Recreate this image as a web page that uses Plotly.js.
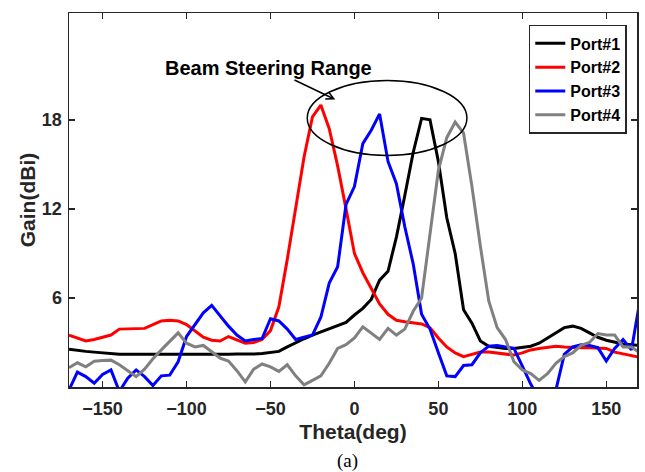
<!DOCTYPE html>
<html>
<head>
<meta charset="utf-8">
<script src="https://cdn.plot.ly/plotly-3.0.1.min.js"></script>
<style>html,body{margin:0;padding:0;background:#fff;}#chart{width:645px;height:472px;}</style>
</head>
<body>
<div id="chart"></div>
<script>
const theta = [-170,-165,-160,-155,-150,-145,-140,-135,-130,-125,-120,-115,-110,-105,-100,-95,-90,-85,-80,-75,-70,-65,-60,-55,-50,-45,-40,-35,-30,-25,-20,-15,-10,-5,0,5,10,15,20,25,30,35,40,45,50,55,60,65,70,75,80,85,90,95,100,105,110,115,120,125,130,135,140,145,150,155,160,165,170];

const port1 = [2.55,2.45,2.4,2.35,2.3,2.25,2.2,2.2,2.2,2.2,2.2,2.2,2.18,2.17,2.15,2.15,2.17,2.18,2.2,2.2,2.22,2.2,2.22,2.25,2.3,2.4,2.7,3.0,3.25,3.5,3.7,3.9,4.1,4.35,4.85,5.3,5.9,7.2,7.8,10.1,12.9,15.8,18.1,18.0,15.2,11.4,9.0,5.2,4.3,3.1,2.75,2.65,2.6,2.6,2.65,2.75,2.95,3.3,3.7,4.0,4.1,3.95,3.65,3.35,3.15,3.0,2.9,2.85,2.8];

const port2 = [3.5,3.3,3.1,3.2,3.35,3.5,3.9,3.9,3.9,3.95,4.2,4.45,4.5,4.45,4.2,3.8,3.35,3.15,3.1,3.4,3.15,2.95,3.0,3.2,3.8,5.4,8.6,12.2,15.5,18.2,19.0,17.4,14.9,12.0,9.0,7.7,6.7,5.6,4.9,4.5,4.4,4.35,4.25,4.0,3.3,2.7,2.3,2.05,2.2,2.35,2.35,2.3,2.2,2.15,2.3,2.5,2.6,2.7,2.75,2.7,2.65,2.65,2.65,2.65,2.6,2.35,2.25,2.1,2.0];

const port3 = [-0.2,1.0,0.7,0.25,0.85,1.15,-0.3,0.6,1.15,0.7,0.1,0.75,0.8,1.7,3.4,4.2,5.0,5.5,4.8,4.1,3.5,3.1,3.2,3.27,4.6,4.45,3.9,3.2,3.35,3.5,4.7,7.0,8.1,12.3,13.5,16.4,17.3,18.4,15.2,13.7,10.8,8.3,4.9,3.9,2.3,0.75,0.7,1.45,1.5,2.3,2.75,2.8,2.7,2.6,1.4,0.2,-0.8,-0.8,-0.2,2.2,2.7,2.85,2.8,2.65,1.75,2.6,3.2,2.5,5.8];

const port4 = [1.3,1.63,1.36,1.74,1.78,1.81,1.5,1.1,0.7,1.2,1.9,2.5,3.1,3.65,2.95,2.7,2.8,2.4,1.95,1.75,1.1,0.35,1.2,1.55,1.35,1.05,1.5,0.75,0.15,0.45,0.75,1.6,2.6,2.85,3.3,4.05,3.6,3.2,3.95,3.5,3.9,5.1,6.0,10.2,14.6,16.8,17.85,17.1,13.5,9.5,5.8,4.0,3.2,1.7,1.15,0.9,0.45,0.9,1.6,2.05,2.3,2.8,3.0,3.6,3.5,3.5,2.7,2.7,2.3];

const seriesNames = ['Port#1','Port#2','Port#3','Port#4'];
const seriesData = [port1, port2, port3, port4];
const seriesColors = ['#000000','#ff0000','#0000ff','#808080'];

const xTicks = [-150,-100,-50,0,50,100,150];
const yTicks = [6,12,18];

const traces = seriesData.map((ys, i) => ({
  x: theta, y: ys, type: 'scatter', mode: 'lines', name: seriesNames[i],
  line: {color: seriesColors[i], width: 3}
}));

const font = 'Liberation Sans, Arial, sans-serif';
const axisCommon = {
  showgrid: false, zeroline: false, showline: true, linecolor: '#262626', linewidth: 1.5,
  mirror: 'ticks', ticks: 'inside', ticklen: 6, tickwidth: 1.5, tickcolor: '#262626',
  tickfont: {family: font, size: 18, color: '#262626', weight: 'bold'}
};

const layout = {
  width: 645, height: 472,
  margin: {l: 69, r: 8, t: 13, b: 85},
  paper_bgcolor: '#fff', plot_bgcolor: '#fff',
  showlegend: true,
  legend: {
    x: 0.982, y: 0.968, xanchor: 'right', yanchor: 'top',
    bgcolor: '#fff', bordercolor: '#262626', borderwidth: 1.5,
    font: {family: font, size: 16, color: '#000', weight: 'bold'},
    tracegroupgap: 0
  },
  xaxis: Object.assign({}, axisCommon, {
    range: [-170, 168.3], tickvals: xTicks, ticklabelstandoff: 5,
    title: {text: 'Theta(deg)', font: {family: font, size: 21, color: '#262626', weight: 'bold'}, standoff: 6}
  }),
  yaxis: Object.assign({}, axisCommon, {
    range: [0, 25.2], tickvals: yTicks, ticklabelstandoff: 2,
    title: {text: 'Gain(dBi)', font: {family: font, size: 21, color: '#262626', weight: 'bold'}, standoff: 0}
  }),
  shapes: [{
    type: 'circle', xref: 'x', yref: 'y',
    x0: -28.1, x1: 67, y0: 15.6, y1: 20.65,
    line: {color: '#000', width: 1.5}
  }],
  annotations: [
    {
      x: -11.4, y: 19.37, xref: 'x', yref: 'y',
      text: 'Beam Steering Range', showarrow: true,
      ax: -67, ay: -32, arrowhead: 5, arrowsize: 1, arrowwidth: 1.5, arrowcolor: '#000',
      font: {family: font, size: 20, color: '#000', weight: 'bold'}
    },
    {
      x: 0.491, y: -0.198, xref: 'paper', yref: 'paper', xanchor: 'center', yanchor: 'middle', showarrow: false,
      text: '(a)', font: {family: 'Liberation Serif, Times New Roman, serif', size: 19, color: '#000'}
    }
  ]
};

Plotly.newPlot('chart', traces, layout, {displayModeBar: false, staticPlot: true});
</script>
</body>
</html>
